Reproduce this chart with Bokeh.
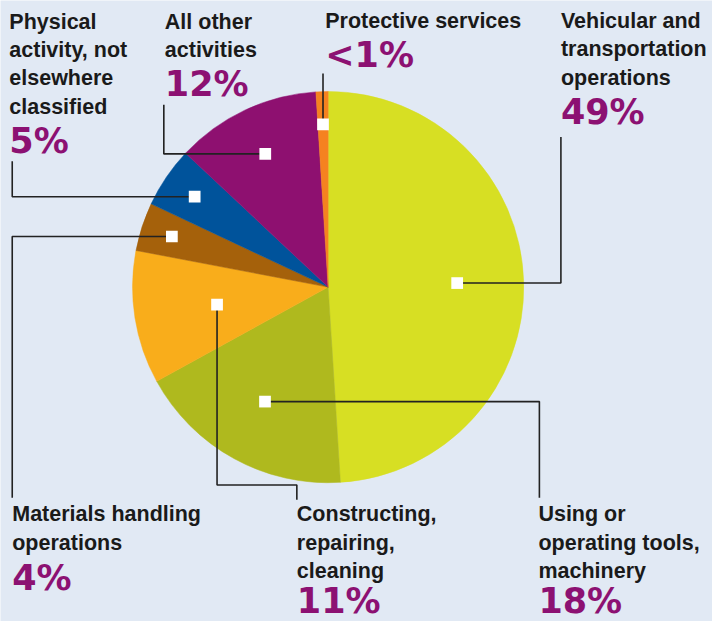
import math
from bokeh.plotting import figure
from bokeh.models import Range1d, ColumnDataSource
from bokeh.core.properties import value
from bokeh.embed import file_html
from bokeh.resources import INLINE

# ---- data ----
categories = ["Vehicular and transportation operations",
              "Using or operating tools, machinery",
              "Constructing, repairing, cleaning",
              "Materials handling operations",
              "Physical activity, not elsewhere classified",
              "All other activities",
              "Protective services"]
values = [49, 18, 11, 4, 5, 12, 1]
percent_labels = ["49%", "18%", "11%", "4%", "5%", "12%", "<1%"]
label_lines = [["Vehicular and", "transportation", "operations"],
               ["Using or", "operating tools,", "machinery"],
               ["Constructing,", "repairing,", "cleaning"],
               ["Materials handling", "operations"],
               ["Physical", "activity, not", "elsewhere", "classified"],
               ["All other", "activities"],
               ["Protective services"]]
colors = ["#d7df23", "#afb91e", "#f9ad1b", "#a5610b", "#00539b", "#8e1070", "#f58220"]

# ---- layout (reference pixel coordinates) ----
BG = "#e1e9f4"
TEXT = "#1a1a1a"
PCT = "#8c1172"
W, H = 728, 637
def Y(py):
    return H - py

cx, cy, R = 335, 294, 200
marker_r = [132, 134, 115, 168, 165, 151, 167]
label_x = [573, 550, 303, 12, 9, 168, 332]
label_top = [29, 535, 535, 535, 30, 30, 29]
pct_gap = [10, 6, 6, 11, 10, 10, 10]
line_step = 29
label_shift = 8     # empirical baseline correction
pct_shift = 12
# leader path points after the marker
leader_tail = [[(573, None), (573, 140)],
               [(551, None), (551, 510)],
               [(None, 497), (303, 497), (303, 512)],
               [(12, None), (12, 510)],
               [(12, None), (12, 165)],
               [(167, None), (167, 107)],
               [(None, 75)]]

p = figure(width=712, height=621, x_range=Range1d(0, W), y_range=Range1d(0, H),
           output_backend="svg", toolbar_location=None, min_border=0,
           x_axis_type=None, y_axis_type=None,
           background_fill_color=BG, border_fill_color=BG, outline_line_color=None)
p.grid.visible = False

total = float(sum(values))
starts, ends, mids = [], [], []
c = 0.0
for v in values:
    c0 = c / total
    c += v
    c1 = c / total
    starts.append(math.pi / 2 - 2 * math.pi * c0)
    ends.append(math.pi / 2 - 2 * math.pi * c1)
    mids.append((c0 + c1) / 2)

src = ColumnDataSource(dict(start=starts, end=ends, color=colors, cat=categories))
p.wedge(x=cx, y=Y(cy), radius=R, start_angle="start", end_angle="end", direction="clock",
        fill_color="color", line_color="color", line_width=0.5, source=src)

# markers and leader lines
mxs, mys, lxs, lys = [], [], [], []
for i, m in enumerate(mids):
    ang = 2 * math.pi * m
    px = cx + marker_r[i] * math.sin(ang)
    py = cy - marker_r[i] * math.cos(ang)
    mxs.append(px)
    mys.append(Y(py))
    xs, ys = [px], [Y(py)]
    lastx, lasty = px, py
    for (tx, ty) in leader_tail[i]:
        nx = lastx if tx is None else tx
        ny = lasty if ty is None else ty
        xs.append(nx)
        ys.append(Y(ny))
        lastx, lasty = nx, ny
    lxs.append(xs)
    lys.append(ys)

p.multi_line(xs=lxs, ys=lys, line_color="#222222", line_width=1.6)
p.rect(x=mxs, y=mys, width=12, height=12, fill_color="white", line_color=None)

# labels
tx, ty, tt = [], [], []
px_, py_, pt = [], [], []
for i, lines in enumerate(label_lines):
    for j, ln in enumerate(lines):
        tx.append(label_x[i])
        ty.append(Y(label_top[i] + j * line_step - label_shift))
        tt.append(ln)
    px_.append(label_x[i])
    py_.append(Y(label_top[i] + len(lines) * line_step + pct_gap[i] - pct_shift))
    pt.append(percent_labels[i])

p.text(x=tx, y=ty, text=tt, text_font=value("Liberation Sans"), text_font_style="bold",
       text_font_size="21.5px", text_color=TEXT, text_baseline="alphabetic", text_align="left")
p.text(x=px_, y=py_, text=pt, text_font=value("DejaVu Sans"), text_font_style="bold",
       text_font_size="35px", text_color=PCT, text_baseline="alphabetic", text_align="left")

html = file_html(p, INLINE)
html = html.replace("<body>", '<body style="background-color:%s;">' % BG, 1)
open("out.html", "w").write(html)
